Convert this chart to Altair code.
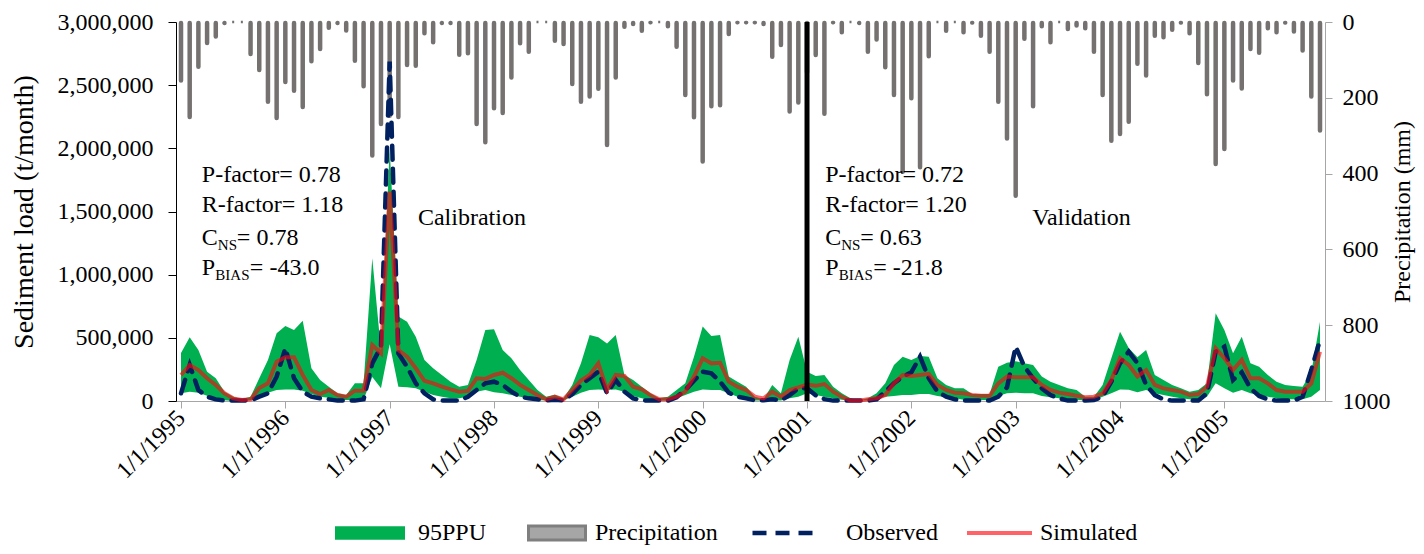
import json
import altair as alt
import pandas as pd

FONT = "Liberation Serif"

# ---------------- data ----------------
month_labels = [f"{m}/1/{y}" for y in range(1995, 2006) for m in range(1, 13)]
tick_labels = [f"1/1/{y}" for y in range(1995, 2006)]
split_label = "1/1/2001"

# monthly precipitation (mm)
precip = [
    157, 253, 121, 58, 41, 5, 0, 0, 87, 129, 213, 256,
    161, 184, 227, 106, 74, 18, 5, 25, 105, 172, 355, 272,
    250, 253, 116, 118, 32, 56, 5, 5, 89, 85, 272, 320,
    230, 243, 149, 59, 81, 0, 0, 52, 61, 166, 213, 199,
    179, 327, 149, 15, 8, 26, 3, 0, 14, 68, 195, 254,
    371, 225, 222, 34, 3, 3, 3, 8, 94, 63, 239, 215,
    135, 90, 245, 3, 30, 0, 5, 81, 49, 122, 195, 398,
    204, 386, 93, 0, 26, 0, 30, 4, 39, 81, 213, 310,
    461, 47, 225, 14, 56, 0, 21, 12, 19, 81, 195, 316,
    298, 266, 113, 144, 39, 43, 23, 4, 32, 111, 193, 377,
    338, 157, 178, 74, 84, 19, 30, 4, 28, 78, 199, 289,
]

# 95PPU upper bound (thousand t/month)
ppu_upper_k = [
    380, 504, 404, 232, 180, 74, 34, 15, 34, 180, 325, 536,
    594, 562, 636, 259, 166, 113, 61, 47, 140, 140, 1130, 400,
    2000, 668, 628, 509, 325, 259, 206, 153, 113, 127, 325, 562,
    567, 404, 338, 245, 166, 87, 34, 50, 21, 127, 298, 522,
    504, 456, 522, 206, 166, 113, 61, 21, 34, 87, 140, 351,
    589, 515, 522, 193, 153, 113, 34, 13, 127, 61, 325, 509,
    232, 198, 206, 113, 61, 21, 5, 21, 61, 140, 285, 351,
    325, 356, 351, 180, 127, 100, 100, 55, 55, 55, 272, 303,
    315, 298, 285, 193, 153, 127, 100, 87, 34, 34, 127, 338,
    549, 420, 346, 404, 206, 166, 127, 100, 74, 87, 140, 694,
    562, 378, 509, 298, 272, 206, 153, 127, 119, 113, 227, 628,
]

# 95PPU lower bound (thousand t/month)
ppu_lower_k = [
    61, 74, 66, 42, 21, 5, 0, 0, 5, 34, 66, 87,
    92, 92, 82, 55, 34, 26, 8, 8, 8, 10, 190, 100,
    450, 113, 108, 100, 74, 47, 34, 21, 21, 34, 74, 87,
    70, 61, 47, 34, 21, 5, 5, 5, 5, 34, 66, 87,
    92, 87, 92, 74, 40, 21, 3, 3, 3, 21, 47, 74,
    92, 87, 87, 61, 34, 21, 3, 3, 3, 3, 21, 34,
    61, 47, 34, 21, 10, 3, 3, 3, 13, 34, 40, 47,
    47, 55, 55, 40, 29, 21, 10, 8, 8, 8, 40, 61,
    66, 61, 61, 40, 29, 21, 10, 10, 3, 8, 34, 61,
    92, 90, 70, 87, 61, 47, 34, 21, 13, 13, 34, 140,
    100, 66, 87, 61, 47, 34, 21, 13, 13, 13, 34, 87,
]

# observed sediment load (thousand t/month)
observed_k = [
    61, 285, 87, 34, 13, 3, 3, 3, 5, 34, 61, 192,
    417, 180, 74, 34, 21, 13, 3, 3, 3, 13, 298, 430,
    2686, 377, 271, 140, 61, 13, 3, 3, 3, 34, 87, 140,
    153, 127, 74, 34, 21, 13, 5, 10, 5, 55, 127, 180,
    232, 61, 166, 74, 21, 5, 3, 3, 3, 30, 87, 161,
    232, 219, 153, 66, 34, 21, 5, 5, 13, 5, 47, 100,
    100, 45, 15, 3, 3, 3, 3, 3, 13, 74, 140, 193,
    227, 351, 180, 74, 34, 13, 3, 3, 3, 3, 34, 108,
    430, 272, 180, 100, 47, 21, 3, 3, 3, 8, 34, 153,
    298, 390, 300, 127, 47, 13, 3, 3, 3, 3, 61, 390,
    430, 166, 227, 100, 40, 13, 3, 3, 3, 34, 245, 483,
]

# simulated sediment load (thousand t/month)
simulated_k = [
    206, 285, 245, 180, 127, 61, 21, 8, 13, 103, 140, 311,
    346, 346, 206, 87, 55, 87, 47, 34, 82, 82, 443, 377,
    1657, 404, 351, 259, 160, 140, 113, 92, 74, 80, 180, 175,
    206, 224, 180, 127, 87, 47, 13, 34, 13, 87, 161, 206,
    298, 87, 206, 198, 113, 92, 47, 13, 13, 34, 74, 193,
    338, 298, 303, 153, 113, 87, 34, 21, 74, 34, 87, 108,
    130, 120, 134, 74, 34, 3, 3, 13, 21, 47, 140, 206,
    198, 206, 214, 127, 87, 66, 61, 47, 42, 42, 140, 193,
    188, 188, 188, 127, 87, 66, 55, 42, 29, 34, 61, 166,
    338, 285, 195, 245, 127, 100, 87, 74, 47, 55, 113, 417,
    338, 245, 325, 180, 180, 140, 87, 74, 74, 74, 140, 390,
]

calib_stats = ["0.78", "1.18", "0.78", "-43.0"]
valid_stats = ["0.72", "1.20", "0.63", "-21.8"]

df = pd.DataFrame({
    "idx": list(range(len(month_labels))),
    "month": month_labels,
    "precip": precip,
    "hi": [v * 1000 for v in ppu_upper_k],
    "lo": [v * 1000 for v in ppu_lower_k],
    "obs": [v * 1000 for v in observed_k],
    "sim": [v * 1000 for v in simulated_k],
})
df["band_key"] = "95PPU"
df["precip_key"] = "Precipitation"
df["obs_key"] = "Observed"
df["sim_key"] = "Simulated"

# ---------------- scales / axes ----------------
x_scale = alt.Scale(domain=[0, len(month_labels) - 1], nice=False, zero=False)
x_axis = alt.Axis(
    values=[month_labels.index(t) for t in tick_labels],
    labelExpr=json.dumps(month_labels) + "[round(datum.value)]",
    labelAngle=315, labelAlign="right", labelBaseline="middle",
    labelFont=FONT, labelFontSize=24, labelColor="black",
    labelPadding=6, labelFlush=False, labelOverlap=False,
    domainColor="#A6A6A6", tickColor="#A6A6A6", tickSize=7,
    grid=False, title=None,
)
left_scale = alt.Scale(domain=[0, 3000000], nice=False, zero=True)
left_axis = alt.Axis(
    orient="left", title="Sediment load (t/month)",
    values=[0, 500000, 1000000, 1500000, 2000000, 2500000, 3000000], format=",.0f",
    labelFont=FONT, labelFontSize=24, labelColor="black", labelPadding=15,
    titleFont=FONT, titleFontSize=28, titleFontWeight="normal", titleColor="black",
    titlePadding=19, domainColor="black", tickColor="black", tickSize=8, grid=False,
)
right_scale = alt.Scale(domain=[0, 1000], reverse=True, nice=False, zero=True)
right_axis = alt.Axis(
    orient="right", title="Precipitation (mm)",
    values=[0, 200, 400, 600, 800, 1000], format="d",
    labelFont=FONT, labelFontSize=24, labelColor="black", labelPadding=10,
    titleFont=FONT, titleFontSize=24, titleFontWeight="normal", titleColor="black",
    titleAngle=270, titleBaseline="top", titlePadding=0,
    domainColor="#A6A6A6", tickColor="#A6A6A6", tickSize=7, grid=False,
)

X = alt.X("idx:Q", scale=x_scale, axis=x_axis)


def legend(x, y, size, offset, **kw):
    return alt.Legend(orient="none", legendX=x, legendY=y, title=None, padding=0,
                      labelFont=FONT, labelFontSize=24, labelColor="black",
                      labelOffset=offset, symbolSize=size, **kw)


# ---------------- layers ----------------
bars = alt.Chart(df).mark_bar(size=2, stroke="#767171", strokeWidth=2.5, cornerRadius=1).encode(
    x=X,
    y=alt.Y("precip:Q", scale=right_scale, axis=right_axis),
    color=alt.Color("precip_key:N",
                    scale=alt.Scale(domain=["Precipitation"], range=["#A6A6A6"]),
                    legend=legend(351, 481, 3249, 8, symbolType="M-1,-0.245H1V0.245H-1Z",
                                  symbolStrokeColor="#7F7F7F", symbolStrokeWidth=3)),
)

band = alt.Chart(df).mark_area(opacity=1, interpolate="linear").encode(
    x=X,
    y=alt.Y("lo:Q", scale=left_scale, axis=left_axis),
    y2="hi:Q",
    fill=alt.Fill("band_key:N",
                  scale=alt.Scale(domain=["95PPU"], range=["#00B050"]),
                  legend=legend(159, 476, 4900, 13, symbolType="M-1,-0.19H1V0.19H-1Z",
                                symbolStrokeWidth=0)),
)

obs = alt.Chart(df).mark_line(color="#002060", strokeWidth=4.5, strokeCap="round").encode(
    x=X,
    y=alt.Y("obs:Q", scale=left_scale, axis=left_axis),
    strokeDash=alt.StrokeDash("obs_key:N",
                              scale=alt.Scale(domain=["Observed"], range=[[14, 9]]),
                              legend=legend(574, 476, 4225, 26, symbolType="stroke",
                                            symbolStrokeColor="#002060", symbolStrokeWidth=4.5)),
)

sim = alt.Chart(df).mark_line(strokeWidth=4, opacity=0.63).encode(
    x=X,
    y=alt.Y("sim:Q", scale=left_scale, axis=left_axis),
    stroke=alt.Stroke("sim_key:N",
                      scale=alt.Scale(domain=["Simulated"], range=["#FF0710"]),
                      legend=legend(789, 476.5, 4225, 6, symbolType="stroke",
                                    symbolStrokeWidth=4)),
)

rule = alt.Chart(pd.DataFrame({"x": [month_labels.index(split_label)]})).mark_rule(
    color="black", strokeWidth=5).encode(x=alt.X("x:Q", scale=x_scale, axis=x_axis))

# annotation anchors (month index, t/month)
block_x = [2.4, 74.1]
row_y = [1790000, 1550000, 1290000, 1050000]
main_rows, eqc_rows, eqp_rows, ns_rows, bias_rows = [], [], [], [], []
for bx, st in zip(block_x, [calib_stats, valid_stats]):
    main_rows += [
        {"x": bx, "y": row_y[0], "t": "P-factor= " + st[0]},
        {"x": bx, "y": row_y[1], "t": "R-factor= " + st[1]},
        {"x": bx, "y": row_y[2], "t": "C"},
        {"x": bx, "y": row_y[3], "t": "P"},
    ]
    eqc_rows.append({"x": bx, "y": row_y[2], "t": "= " + st[2]})
    eqp_rows.append({"x": bx, "y": row_y[3], "t": "= " + st[3]})
    ns_rows.append({"x": bx, "y": row_y[2], "t": "NS"})
    bias_rows.append({"x": bx, "y": row_y[3], "t": "BIAS"})
period_rows = [
    {"x": 27.25, "y": 1449000, "t": "Calibration"},
    {"x": 97.9, "y": 1449000, "t": "Validation"},
]


def text_layer(rows, size=24, dx=0, dy=0):
    return alt.Chart(pd.DataFrame(rows)).mark_text(
        align="left", baseline="middle", font=FONT, fontSize=size, color="black", dx=dx, dy=dy
    ).encode(
        x=alt.X("x:Q", scale=x_scale, axis=x_axis),
        y=alt.Y("y:Q", scale=left_scale, axis=left_axis),
        text="t:N",
    )


texts = [
    text_layer(main_rows),
    text_layer(eqc_rows, dx=35),
    text_layer(eqp_rows, dx=48),
    text_layer(ns_rows, size=15, dx=16, dy=7),
    text_layer(bias_rows, size=15, dx=13.5, dy=7),
    text_layer(period_rows),
]

left = alt.layer(band, obs, sim, rule, *texts)

chart = alt.layer(bars, left).resolve_scale(y="independent").properties(
    width=1149, height=379,
    padding={"left": 168, "top": 14, "right": 91, "bottom": 145},
    autosize=alt.AutoSizeParams(type="none"),
).configure(font=FONT).configure_view(stroke=None)

chart.save("out.html", embed_options={"renderer": "svg", "actions": False})
